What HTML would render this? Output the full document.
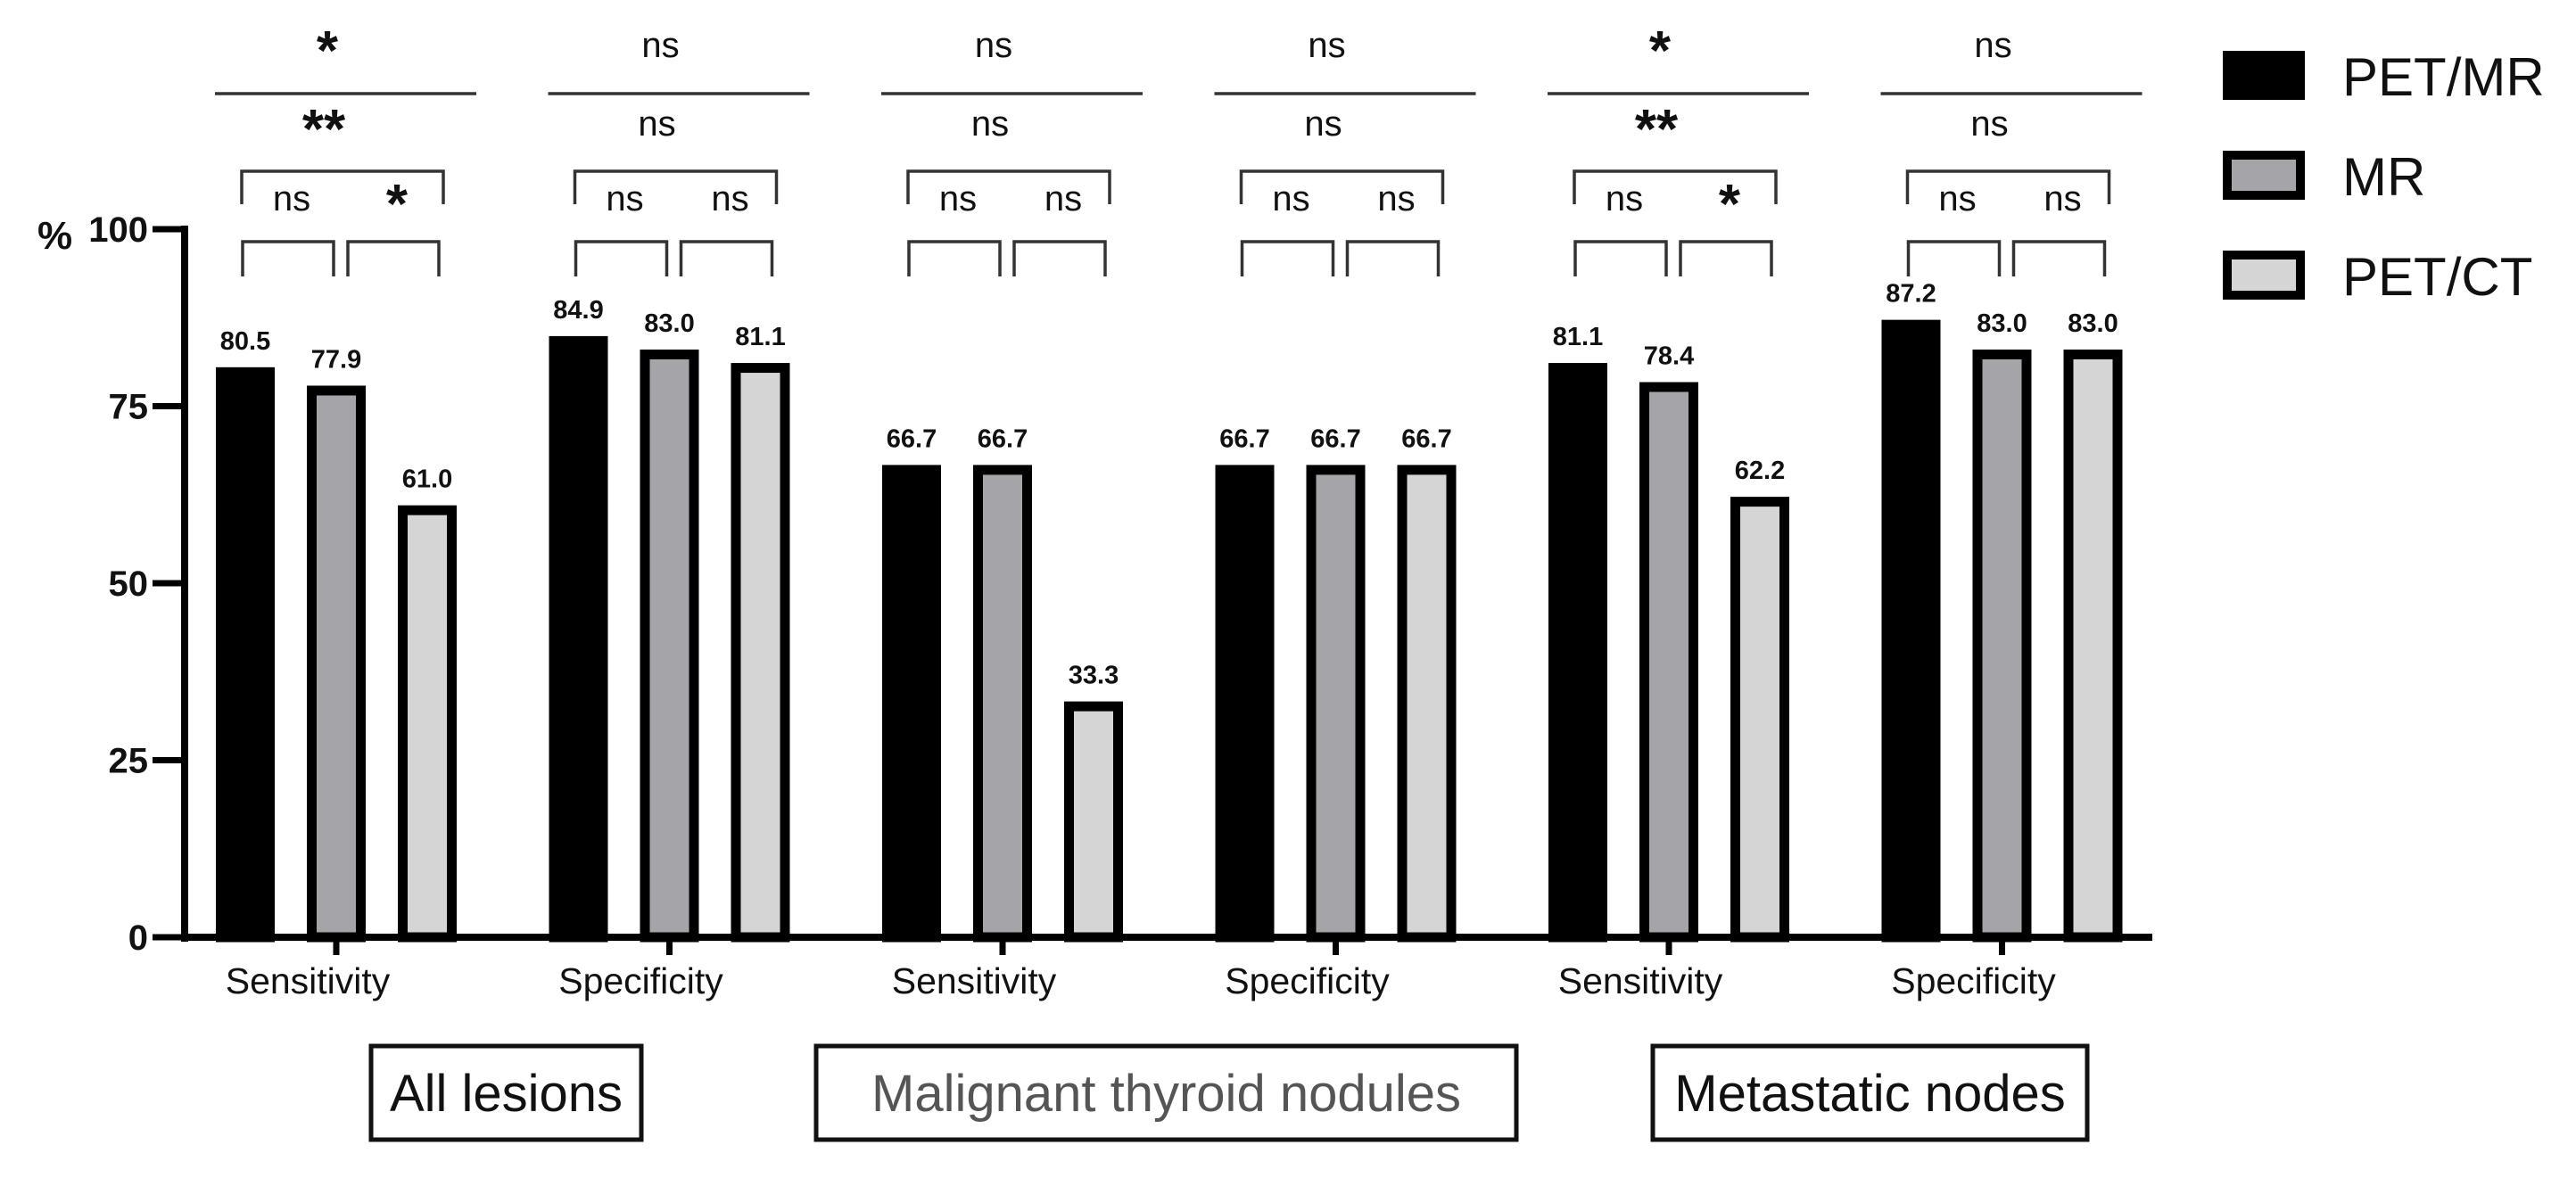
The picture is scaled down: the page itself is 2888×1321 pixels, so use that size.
<!DOCTYPE html>
<html><head><meta charset="utf-8"><style>
html,body{margin:0;padding:0;background:#fff;}
svg{display:block;font-family:"Liberation Sans",Arial,sans-serif;}
</style></head><body>
<svg id="chart" width="2888" height="1321" viewBox="0 0 2888 1321" xmlns="http://www.w3.org/2000/svg"></svg>
<script>
const categories = ["Sensitivity","Specificity","Sensitivity","Specificity","Sensitivity","Specificity"];
const petmrValues = [80.5,84.9,66.7,66.7,81.1,87.2];
const mrValues = [77.9,83.0,66.7,66.7,78.4,83.0];
const petctValues = [61.0,81.1,33.3,66.7,62.2,83.0];
const yTicks = [0,25,50,75,100];
const sigTop = ["*","ns","ns","ns","*","ns"];
const sigSecond = ["**","ns","ns","ns","**","ns"];
const sigLeft = ["ns","ns","ns","ns","ns","ns"];
const sigRight = ["*","ns","ns","ns","*","ns"];

const NS="http://www.w3.org/2000/svg";
const svg=document.getElementById('chart');
function el(tag,attrs,parent){const e=document.createElementNS(NS,tag);for(const k in attrs)e.setAttribute(k,attrs[k]);(parent||svg).appendChild(e);return e;}
const y0=1051, y100=257, axisX=207;
function yScale(v){return y0-(y0-y100)*v/100;}
function xCenter(i){return 377+373.5*i;}
const barW=66, barOff=102;

// bars
const series=[{vals:petmrValues,fill:"#000",name:"petmr"},{vals:mrValues,fill:"#a5a4a9",name:"mr"},{vals:petctValues,fill:"#d5d5d5",name:"petct"}];
series.forEach((s,si)=>{
  s.vals.forEach((v,i)=>{
    const cx=xCenter(i)+(si-1)*barOff;
    const top=yScale(v);
    const r=el('rect',{x:cx-barW/2+5.5,y:top+5.5,width:barW-11,height:y0-top-5.5,fill:s.fill,stroke:"#000","stroke-width":11});
    
    
    const t=el('text',{x:cx,y:top-20,"text-anchor":"middle","font-size":29,"font-weight":"bold",fill:"#111"});
    t.textContent=v.toFixed(1);
    
    
  });
});

// axes
const ya=el('line',{x1:axisX,y1:y100-4,x2:axisX,y2:y0+5,stroke:"#000","stroke-width":8});


const xa=el('line',{x1:axisX-4,y1:y0,x2:2413,y2:y0,stroke:"#000","stroke-width":8});


yTicks.forEach(v=>{
  const y=yScale(v);
  const tk=el('line',{x1:171,y1:y,x2:axisX,y2:y,stroke:"#000","stroke-width":7});
  
  
  const t=el('text',{x:166,y:y+14,"text-anchor":"end","font-size":40,"font-weight":"bold",fill:"#111"});
  t.textContent=v;
  
  
});
const pct=el('text',{x:42,y:y100+22,"font-size":44,"font-weight":"bold",fill:"#111"});
pct.textContent="%";



categories.forEach((c,i)=>{
  const cx=xCenter(i);
  const tk=el('line',{x1:cx,y1:y0,x2:cx,y2:y0+20,stroke:"#000","stroke-width":7});
  
  
  const t=el('text',{x:cx-32,y:y0+63,"text-anchor":"middle","font-size":41,fill:"#111"});
  t.textContent=c;
  
  
});

// significance annotations
function txt(x,y,s,name,size){
  const big=s.indexOf('*')>=0;
  const t=el('text',{x:x,y:big?y+26:y+12,"text-anchor":"middle","font-size":big?62:40,"font-weight":big?"bold":"normal",fill:"#111"});
  t.textContent=s;
  
  
}
function path(d,name){
  const p=el('path',{d:d,fill:"none",stroke:"#333","stroke-width":3.5});
  
  
}
categories.forEach((c,i)=>{
  const cx=xCenter(i);
  txt(cx-10,52,sigTop[i],'sig-top-label');
  path(`M${cx-136} 105 H${cx+157}`,'sig-top-line');
  txt(cx-14,140,sigSecond[i],'sig-second-label');
  path(`M${cx-106} 229 V192 H${cx+120} V229`,'sig-bracket-outer');
  txt(cx-50,224,sigLeft[i],'sig-left-label');
  txt(cx+68,224,sigRight[i],'sig-right-label');
  path(`M${cx-105} 310 V271 H${cx-3} V310`,'sig-bracket-left');
  path(`M${cx+13} 310 V271 H${cx+115} V310`,'sig-bracket-right');
});

// group boxes
const groups=[{x:416,w:303,label:"All lesions",col:"#111"},{x:915,w:785,label:"Malignant thyroid nodules",col:"#555"},{x:1853,w:487,label:"Metastatic nodes",col:"#111"}];
groups.forEach(g=>{
  const r=el('rect',{x:g.x,y:1173,width:g.w,height:105,fill:"#fff",stroke:"#111","stroke-width":5});
  
  
  const t=el('text',{x:g.x+g.w/2,y:1246,"text-anchor":"middle","font-size":58,fill:g.col});
  t.textContent=g.label;
  
  
});

// legend
const legend=[{y:57,fill:"#000",label:"PET/MR"},{y:169,fill:"#a5a4a9",label:"MR"},{y:281,fill:"#d5d5d5",label:"PET/CT"}];
legend.forEach(l=>{
  const r=el('rect',{x:2497,y:l.y+5,width:82,height:45,fill:l.fill,stroke:"#000","stroke-width":10});
  
  
  const t=el('text',{x:2626,y:l.y+50,"font-size":60,fill:"#111"});
  t.textContent=l.label;
  
  
});
</script>
</body></html>
